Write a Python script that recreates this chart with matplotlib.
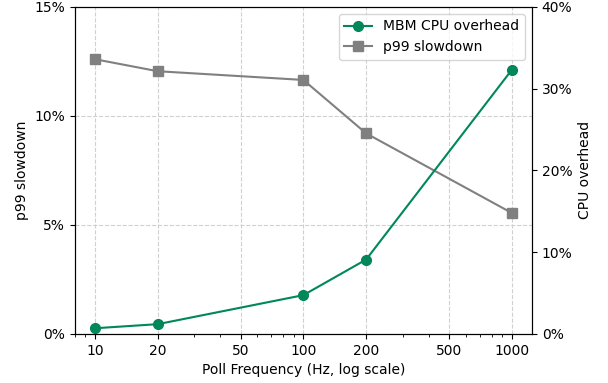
import matplotlib
matplotlib.use("Agg")
import matplotlib.pyplot as plt
from matplotlib import ticker

freq = [10, 20, 100, 200, 1000]
p99_slowdown = [12.6, 12.05, 11.65, 9.2, 5.55]   # % (left axis)
cpu_overhead = [0.7, 1.2, 4.75, 9.1, 32.3]       # % (right axis)
xticks = [10, 20, 50, 100, 200, 500, 1000]

green = "#00875A"
gray = "#808080"

fig = plt.figure(figsize=(6.08, 3.83), dpi=100)
ax1 = fig.add_axes([0.123, 0.128, 0.752, 0.854])
ax1.set_xscale("log")

lns2 = ax1.plot(freq, p99_slowdown, color=gray, marker="s", markersize=7,
                lw=1.5, label="p99 slowdown")
ax1.set_ylim(0, 15)
ax1.set_yticks([0, 5, 10, 15])
ax1.yaxis.set_major_formatter(ticker.FuncFormatter(lambda v, p: "%d%%" % v))
ax1.set_ylabel("p99 slowdown", fontsize=10)
ax1.set_xlim(8, 1250)
ax1.set_xticks(xticks)
ax1.xaxis.set_major_formatter(ticker.FuncFormatter(lambda v, p: "%d" % v))
ax1.set_xlabel("Poll Frequency (Hz, log scale)", fontsize=10)
ax1.grid(True, ls="--", color="#d0d0d0", lw=0.8)

ax2 = ax1.twinx()
lns1 = ax2.plot(freq, cpu_overhead, color=green, marker="o", markersize=7,
                lw=1.5, label="MBM CPU overhead")
ax2.set_ylim(0, 40)
ax2.set_yticks([0, 10, 20, 30, 40])
ax2.yaxis.set_major_formatter(ticker.FuncFormatter(lambda v, p: "%d%%" % v))
ax2.set_ylabel("CPU overhead", fontsize=10)

lns = lns1 + lns2
labs = [l.get_label() for l in lns]
ax2.legend(lns, labs, loc="upper right", fontsize=10)

fig.savefig("out.png", dpi=100)
